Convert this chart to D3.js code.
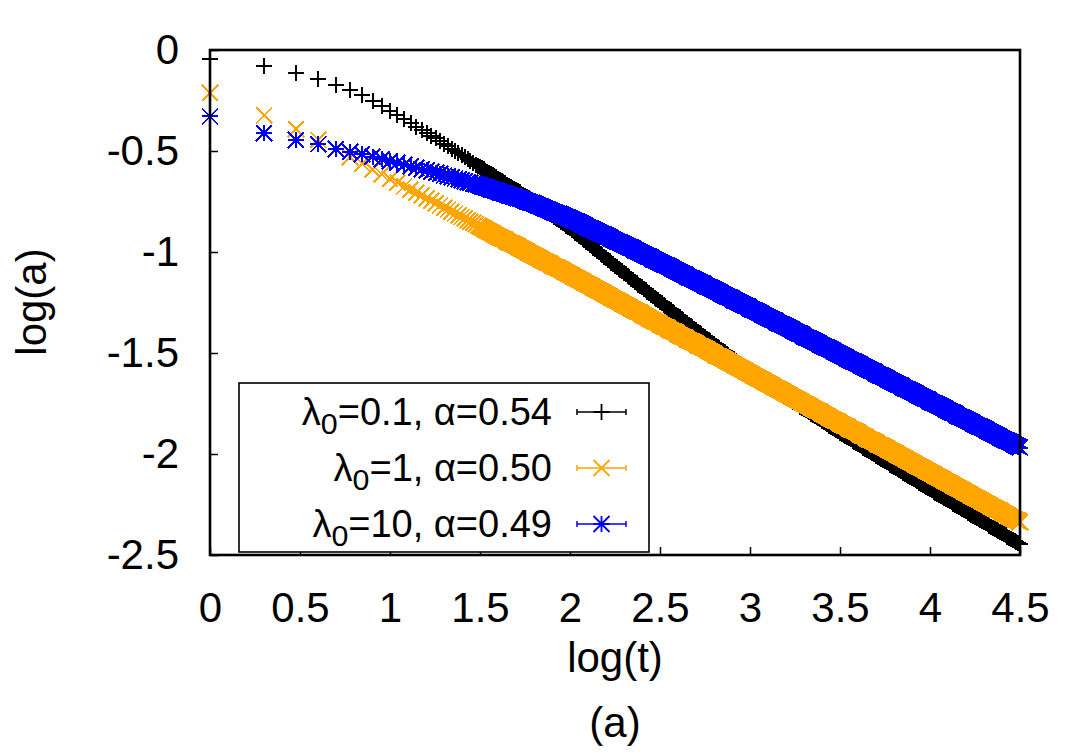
<!DOCTYPE html>
<html><head><meta charset="utf-8">
<script src="https://cdn.jsdelivr.net/npm/d3@7"></script>
<style>
body{margin:0;background:#fff}
svg{display:block}
text{font-family:"Liberation Sans",Arial,Helvetica,sans-serif;fill:#000}
</style>
</head><body>
<svg id="c" width="1080" height="756"></svg>
<script>
// ---------- data ----------
const xTicks = [0, 0.5, 1, 1.5, 2, 2.5, 3, 3.5, 4, 4.5];
const yTicks = [0, -0.5, -1, -1.5, -2, -2.5];

const logT = [
  0, 0.301, 0.477, 0.602, 0.699, 0.778, 0.845, 0.903, 0.954, 1.0,
  1.041, 1.079, 1.114, 1.146, 1.176, 1.204, 1.230, 1.255, 1.279, 1.301,
  1.322, 1.342, 1.362, 1.380, 1.398, 1.415, 1.431, 1.447, 1.462, 1.477,
  1.491,
  1.50,1.51,1.52,1.53,1.54,1.55,1.56,1.57,1.58,1.59,
  1.60,1.61,1.62,1.63,1.64,1.65,1.66,1.67,1.68,1.69,
  1.70,1.71,1.72,1.73,1.74,1.75,1.76,1.77,1.78,1.79,
  1.80,1.81,1.82,1.83,1.84,1.85,1.86,1.87,1.88,1.89,
  1.90,1.91,1.92,1.93,1.94,1.95,1.96,1.97,1.98,1.99,
  2.00,2.01,2.02,2.03,2.04,2.05,2.06,2.07,2.08,2.09,
  2.10,2.11,2.12,2.13,2.14,2.15,2.16,2.17,2.18,2.19,
  2.20,2.21,2.22,2.23,2.24,2.25,2.26,2.27,2.28,2.29,
  2.30,2.31,2.32,2.33,2.34,2.35,2.36,2.37,2.38,2.39,
  2.40,2.41,2.42,2.43,2.44,2.45,2.46,2.47,2.48,2.49,
  2.50,2.51,2.52,2.53,2.54,2.55,2.56,2.57,2.58,2.59,
  2.60,2.61,2.62,2.63,2.64,2.65,2.66,2.67,2.68,2.69,
  2.70,2.71,2.72,2.73,2.74,2.75,2.76,2.77,2.78,2.79,
  2.80,2.81,2.82,2.83,2.84,2.85,2.86,2.87,2.88,2.89,
  2.90,2.91,2.92,2.93,2.94,2.95,2.96,2.97,2.98,2.99,
  3.00,3.01,3.02,3.03,3.04,3.05,3.06,3.07,3.08,3.09,
  3.10,3.11,3.12,3.13,3.14,3.15,3.16,3.17,3.18,3.19,
  3.20,3.21,3.22,3.23,3.24,3.25,3.26,3.27,3.28,3.29,
  3.30,3.31,3.32,3.33,3.34,3.35,3.36,3.37,3.38,3.39,
  3.40,3.41,3.42,3.43,3.44,3.45,3.46,3.47,3.48,3.49,
  3.50,3.51,3.52,3.53,3.54,3.55,3.56,3.57,3.58,3.59,
  3.60,3.61,3.62,3.63,3.64,3.65,3.66,3.67,3.68,3.69,
  3.70,3.71,3.72,3.73,3.74,3.75,3.76,3.77,3.78,3.79,
  3.80,3.81,3.82,3.83,3.84,3.85,3.86,3.87,3.88,3.89,
  3.90,3.91,3.92,3.93,3.94,3.95,3.96,3.97,3.98,3.99,
  4.00,4.01,4.02,4.03,4.04,4.05,4.06,4.07,4.08,4.09,
  4.10,4.11,4.12,4.13,4.14,4.15,4.16,4.17,4.18,4.19,
  4.20,4.21,4.22,4.23,4.24,4.25,4.26,4.27,4.28,4.29,
  4.30,4.31,4.32,4.33,4.34,4.35,4.36,4.37,4.38,4.39,
  4.40,4.41,4.42,4.43,4.44,4.45,4.46,4.47,4.48,4.49,
  4.50
];

const black = [
  -0.046,-0.079,-0.115,-0.145,-0.173,-0.198,-0.222,-0.251,-0.277,-0.300,
  -0.322,-0.343,-0.362,-0.379,-0.395,-0.410,-0.424,-0.438,-0.452,-0.465,
  -0.477,-0.489,-0.500,-0.511,-0.521,-0.531,-0.540,-0.549,-0.558,-0.567,
  -0.573,
  -0.580,-0.586,-0.591,-0.597,-0.603,-0.609,-0.614,-0.620,-0.626,-0.631,
  -0.637,-0.643,-0.648,-0.654,-0.660,-0.666,-0.671,-0.677,-0.683,-0.688,
  -0.694,-0.700,-0.705,-0.711,-0.717,-0.723,-0.729,-0.735,-0.742,-0.748,
  -0.754,-0.761,-0.767,-0.774,-0.780,-0.786,-0.793,-0.799,-0.806,-0.812,
  -0.818,-0.825,-0.831,-0.838,-0.844,-0.850,-0.857,-0.863,-0.870,-0.876,
  -0.882,-0.890,-0.897,-0.905,-0.912,-0.919,-0.927,-0.934,-0.942,-0.949,
  -0.956,-0.964,-0.971,-0.979,-0.986,-0.993,-1.001,-1.008,-1.016,-1.023,
  -1.030,-1.038,-1.045,-1.053,-1.060,-1.067,-1.075,-1.082,-1.089,-1.096,
  -1.103,-1.111,-1.118,-1.125,-1.132,-1.139,-1.147,-1.154,-1.161,-1.168,
  -1.175,-1.183,-1.190,-1.197,-1.204,-1.211,-1.219,-1.226,-1.233,-1.240,
  -1.247,-1.254,-1.261,-1.268,-1.275,-1.282,-1.289,-1.296,-1.303,-1.310,
  -1.317,-1.324,-1.331,-1.338,-1.345,-1.352,-1.359,-1.366,-1.373,-1.380,
  -1.387,-1.394,-1.401,-1.408,-1.415,-1.422,-1.429,-1.436,-1.443,-1.450,
  -1.456,-1.463,-1.470,-1.477,-1.484,-1.490,-1.497,-1.504,-1.511,-1.518,
  -1.524,-1.531,-1.538,-1.545,-1.552,-1.558,-1.565,-1.572,-1.579,-1.586,
  -1.592,-1.599,-1.605,-1.611,-1.617,-1.623,-1.630,-1.636,-1.642,-1.648,
  -1.654,-1.661,-1.667,-1.673,-1.679,-1.685,-1.692,-1.698,-1.704,-1.710,
  -1.716,-1.723,-1.729,-1.735,-1.741,-1.747,-1.753,-1.759,-1.765,-1.771,
  -1.777,-1.783,-1.788,-1.794,-1.800,-1.806,-1.812,-1.818,-1.824,-1.829,
  -1.835,-1.841,-1.847,-1.853,-1.859,-1.865,-1.870,-1.876,-1.882,-1.888,
  -1.894,-1.900,-1.905,-1.911,-1.917,-1.922,-1.928,-1.934,-1.939,-1.945,
  -1.951,-1.956,-1.962,-1.968,-1.974,-1.979,-1.985,-1.991,-1.996,-2.002,
  -2.008,-2.013,-2.019,-2.025,-2.031,-2.036,-2.042,-2.047,-2.053,-2.059,
  -2.064,-2.070,-2.075,-2.081,-2.086,-2.092,-2.097,-2.103,-2.108,-2.114,
  -2.120,-2.125,-2.131,-2.136,-2.142,-2.147,-2.153,-2.158,-2.164,-2.170,
  -2.175,-2.180,-2.186,-2.191,-2.197,-2.202,-2.208,-2.213,-2.219,-2.224,
  -2.230,-2.235,-2.240,-2.246,-2.251,-2.257,-2.262,-2.268,-2.273,-2.279,
  -2.284,-2.290,-2.295,-2.300,-2.306,-2.311,-2.317,-2.322,-2.328,-2.333,
  -2.338,-2.344,-2.349,-2.355,-2.360,-2.365,-2.371,-2.376,-2.382,-2.387,
  -2.392,-2.398,-2.403,-2.409,-2.414,-2.419,-2.425,-2.430,-2.436,-2.441,
  -2.446
];

const orange = [
  -0.211,-0.323,-0.392,-0.445,-0.490,-0.530,-0.562,-0.590,-0.615,-0.637,
  -0.657,-0.675,-0.691,-0.706,-0.721,-0.734,-0.747,-0.758,-0.769,-0.780,
  -0.790,-0.800,-0.809,-0.818,-0.826,-0.834,-0.842,-0.849,-0.857,-0.864,
  -0.871,
  -0.875,-0.879,-0.884,-0.889,-0.894,-0.898,-0.903,-0.908,-0.913,-0.917,
  -0.922,-0.927,-0.932,-0.936,-0.941,-0.946,-0.951,-0.955,-0.960,-0.965,
  -0.970,-0.974,-0.979,-0.984,-0.989,-0.993,-0.998,-1.003,-1.008,-1.012,
  -1.017,-1.022,-1.027,-1.031,-1.036,-1.041,-1.046,-1.050,-1.055,-1.060,
  -1.065,-1.069,-1.074,-1.079,-1.084,-1.088,-1.093,-1.098,-1.103,-1.107,
  -1.112,-1.117,-1.122,-1.127,-1.132,-1.137,-1.141,-1.146,-1.151,-1.156,
  -1.161,-1.166,-1.171,-1.176,-1.181,-1.186,-1.190,-1.195,-1.200,-1.205,
  -1.210,-1.215,-1.220,-1.225,-1.230,-1.235,-1.239,-1.244,-1.249,-1.254,
  -1.259,-1.264,-1.269,-1.274,-1.279,-1.284,-1.288,-1.293,-1.298,-1.303,
  -1.308,-1.313,-1.318,-1.323,-1.328,-1.333,-1.337,-1.342,-1.347,-1.352,
  -1.357,-1.362,-1.367,-1.372,-1.377,-1.382,-1.386,-1.391,-1.396,-1.401,
  -1.406,-1.411,-1.416,-1.421,-1.426,-1.431,-1.435,-1.440,-1.445,-1.450,
  -1.455,-1.460,-1.465,-1.470,-1.475,-1.480,-1.484,-1.489,-1.494,-1.499,
  -1.504,-1.509,-1.514,-1.519,-1.524,-1.529,-1.533,-1.538,-1.543,-1.548,
  -1.553,-1.558,-1.563,-1.568,-1.573,-1.578,-1.582,-1.587,-1.592,-1.597,
  -1.602,-1.607,-1.612,-1.617,-1.622,-1.627,-1.631,-1.636,-1.641,-1.646,
  -1.651,-1.656,-1.661,-1.666,-1.671,-1.676,-1.680,-1.685,-1.690,-1.695,
  -1.700,-1.705,-1.710,-1.715,-1.720,-1.725,-1.729,-1.734,-1.739,-1.744,
  -1.749,-1.754,-1.759,-1.764,-1.769,-1.774,-1.778,-1.783,-1.788,-1.793,
  -1.798,-1.803,-1.808,-1.813,-1.818,-1.823,-1.827,-1.832,-1.837,-1.842,
  -1.847,-1.852,-1.857,-1.862,-1.867,-1.872,-1.876,-1.881,-1.886,-1.891,
  -1.896,-1.901,-1.906,-1.911,-1.916,-1.921,-1.925,-1.930,-1.935,-1.940,
  -1.945,-1.950,-1.955,-1.960,-1.965,-1.970,-1.974,-1.979,-1.984,-1.989,
  -1.994,-1.999,-2.004,-2.009,-2.014,-2.019,-2.023,-2.028,-2.033,-2.038,
  -2.043,-2.048,-2.053,-2.058,-2.063,-2.068,-2.072,-2.077,-2.082,-2.087,
  -2.092,-2.097,-2.102,-2.107,-2.112,-2.117,-2.121,-2.126,-2.131,-2.136,
  -2.141,-2.146,-2.151,-2.156,-2.161,-2.166,-2.170,-2.175,-2.180,-2.185,
  -2.190,-2.195,-2.200,-2.205,-2.210,-2.215,-2.219,-2.224,-2.229,-2.234,
  -2.239,-2.244,-2.249,-2.254,-2.259,-2.264,-2.268,-2.273,-2.278,-2.283,
  -2.288,-2.293,-2.298,-2.303,-2.308,-2.313,-2.317,-2.322,-2.327,-2.332,
  -2.337
];

const blue = [
  -0.329,-0.412,-0.445,-0.466,-0.490,-0.504,-0.516,-0.529,-0.540,-0.550,
  -0.559,-0.568,-0.576,-0.583,-0.590,-0.596,-0.602,-0.608,-0.614,-0.620,
  -0.625,-0.630,-0.635,-0.640,-0.645,-0.649,-0.654,-0.658,-0.662,-0.665,
  -0.668,
  -0.671,-0.674,-0.677,-0.680,-0.683,-0.686,-0.689,-0.692,-0.695,-0.697,
  -0.700,-0.703,-0.706,-0.709,-0.712,-0.715,-0.718,-0.721,-0.724,-0.726,
  -0.729,-0.732,-0.735,-0.738,-0.741,-0.744,-0.747,-0.751,-0.755,-0.758,
  -0.762,-0.765,-0.769,-0.773,-0.776,-0.780,-0.783,-0.787,-0.791,-0.794,
  -0.798,-0.801,-0.805,-0.809,-0.812,-0.816,-0.819,-0.823,-0.827,-0.830,
  -0.834,-0.838,-0.842,-0.847,-0.851,-0.855,-0.860,-0.864,-0.868,-0.873,
  -0.877,-0.881,-0.885,-0.890,-0.894,-0.898,-0.903,-0.907,-0.911,-0.916,
  -0.920,-0.924,-0.928,-0.933,-0.937,-0.941,-0.946,-0.950,-0.955,-0.959,
  -0.963,-0.968,-0.972,-0.977,-0.981,-0.985,-0.990,-0.994,-0.999,-1.003,
  -1.007,-1.012,-1.016,-1.021,-1.025,-1.029,-1.034,-1.038,-1.043,-1.047,
  -1.051,-1.056,-1.060,-1.065,-1.069,-1.074,-1.078,-1.083,-1.087,-1.092,
  -1.096,-1.101,-1.105,-1.110,-1.114,-1.119,-1.123,-1.128,-1.132,-1.137,
  -1.141,-1.146,-1.150,-1.155,-1.159,-1.164,-1.168,-1.173,-1.177,-1.182,
  -1.187,-1.191,-1.196,-1.200,-1.205,-1.209,-1.214,-1.218,-1.223,-1.228,
  -1.232,-1.237,-1.241,-1.246,-1.250,-1.255,-1.259,-1.264,-1.268,-1.273,
  -1.278,-1.282,-1.287,-1.291,-1.296,-1.301,-1.305,-1.310,-1.314,-1.319,
  -1.324,-1.328,-1.333,-1.337,-1.342,-1.347,-1.351,-1.356,-1.360,-1.365,
  -1.370,-1.374,-1.379,-1.383,-1.388,-1.393,-1.397,-1.402,-1.406,-1.411,
  -1.416,-1.420,-1.425,-1.429,-1.434,-1.439,-1.443,-1.448,-1.452,-1.457,
  -1.462,-1.466,-1.471,-1.475,-1.480,-1.485,-1.489,-1.494,-1.498,-1.503,
  -1.508,-1.512,-1.517,-1.521,-1.526,-1.531,-1.535,-1.540,-1.544,-1.549,
  -1.554,-1.558,-1.563,-1.567,-1.572,-1.577,-1.581,-1.586,-1.590,-1.595,
  -1.600,-1.604,-1.609,-1.613,-1.618,-1.623,-1.627,-1.632,-1.636,-1.641,
  -1.646,-1.650,-1.655,-1.659,-1.664,-1.669,-1.673,-1.678,-1.682,-1.687,
  -1.692,-1.696,-1.701,-1.705,-1.710,-1.715,-1.719,-1.724,-1.728,-1.733,
  -1.738,-1.742,-1.747,-1.751,-1.756,-1.761,-1.765,-1.770,-1.774,-1.779,
  -1.784,-1.788,-1.793,-1.797,-1.802,-1.807,-1.811,-1.816,-1.820,-1.825,
  -1.830,-1.834,-1.839,-1.843,-1.848,-1.853,-1.857,-1.862,-1.866,-1.871,
  -1.876,-1.880,-1.885,-1.889,-1.894,-1.899,-1.903,-1.908,-1.912,-1.917,
  -1.922,-1.926,-1.931,-1.935,-1.940,-1.945,-1.949,-1.954,-1.958,-1.963,
  -1.968
];

const seriesNames  = ["black", "orange", "blue"];
const lambdaValues = ["0.1", "1", "10"];
const alphaValues  = ["0.54", "0.50", "0.49"];
const seriesColors = ["#000000", "#ffa500", "#0000ff"];
const seriesShapes = ["plus", "cross", "star"];
const seriesValues = [black, orange, blue];

// ---------- drawing ----------
const FS = 42, LFS = 38;
const svg = d3.select("#c");
const x = d3.scaleLinear().domain([0, 4.5]).range([210, 1020]);
const y = d3.scaleLinear().domain([-2.5, 0]).range([555, 50]);

function shapePath(kind, h) {
  const plus = `M${-h},0H${h}M0,${-h}V${h}`;
  const cross = `M${-h},${-h}L${h},${h}M${-h},${h}L${h},${-h}`;
  if (kind === "plus") return plus;
  if (kind === "cross") return cross;
  return plus + cross;
}

// axes with inward ticks
const gx = svg.append("g").attr("transform", `translate(0,${y.range()[0]})`)
  .call(d3.axisBottom(x).tickValues(xTicks).tickSize(-8).tickPadding(37)
        .tickFormat(d => String(d)));
const gy = svg.append("g").attr("transform", `translate(${x.range()[0]},0)`)
  .call(d3.axisLeft(y).tickValues(yTicks).tickSize(-8).tickPadding(31)
        .tickFormat(d => String(d)));
[gx, gy].forEach(g => {
  g.select(".domain").remove();
  g.selectAll(".tick line").attr("stroke", "#000").attr("stroke-width", 1.5);
  g.selectAll(".tick text").attr("font-size", FS)
    .style("font-family", '"Liberation Sans", Arial, sans-serif').attr("fill", "#000");
});

// data marks
const plot = svg.append("g");
seriesValues.forEach((vals, si) => {
  const d = logT.map((t, i) => [t, vals[i]]);
  plot.append("g")
    .attr("fill", "none")
    .attr("stroke", seriesColors[si])
    .attr("stroke-width", 2)
    .attr("shape-rendering", "crispEdges")
    .selectAll("path").data(d).join("path")
    .attr("transform", p => `translate(${x(p[0])},${y(p[1])})`)
    .attr("d", shapePath(seriesShapes[si], 8));
});

// frame
svg.append("rect")
  .attr("x", x.range()[0]).attr("y", y.range()[1])
  .attr("width", x.range()[1] - x.range()[0])
  .attr("height", y.range()[0] - y.range()[1])
  .attr("fill", "none").attr("stroke", "#000").attr("stroke-width", 2.6);

// legend
const lg = svg.append("g");
lg.append("rect").attr("x", 239).attr("y", 383).attr("width", 410).attr("height", 169)
  .attr("fill", "#fff").attr("stroke", "#000").attr("stroke-width", 1.6);
seriesNames.forEach((nm, i) => {
  const cy = 412 + i * 56;
  const t = lg.append("text").attr("x", 552).attr("y", cy + 13)
    .attr("text-anchor", "end").attr("font-size", LFS);
  t.append("tspan").text("λ");
  t.append("tspan").attr("font-size", LFS * 0.8).attr("dy", 9).text("0");
  t.append("tspan").attr("dy", -9).text(`=${lambdaValues[i]}, α=${alphaValues[i]}`);
  const col = seriesColors[i];
  lg.append("path").attr("d", `M577,${cy}H626M577,${cy - 3}V${cy + 3}M626,${cy - 3}V${cy + 3}`)
    .attr("stroke", col).attr("stroke-width", 1.5).attr("fill", "none");
  lg.append("path").attr("transform", `translate(601.5,${cy})`)
    .attr("d", shapePath(seriesShapes[i], 8))
    .attr("stroke", col).attr("stroke-width", 1.8).attr("fill", "none");
});

// axis titles
svg.append("text").attr("x", 615).attr("y", 672).attr("text-anchor", "middle")
  .attr("font-size", FS).text("log(t)");
svg.append("text").attr("x", 615).attr("y", 737).attr("text-anchor", "middle")
  .attr("font-size", FS).text("(a)");
svg.append("text").attr("transform", "translate(46,302) rotate(-90)")
  .attr("text-anchor", "middle").attr("font-size", FS).text("log(a)");
</script>
</body></html>
